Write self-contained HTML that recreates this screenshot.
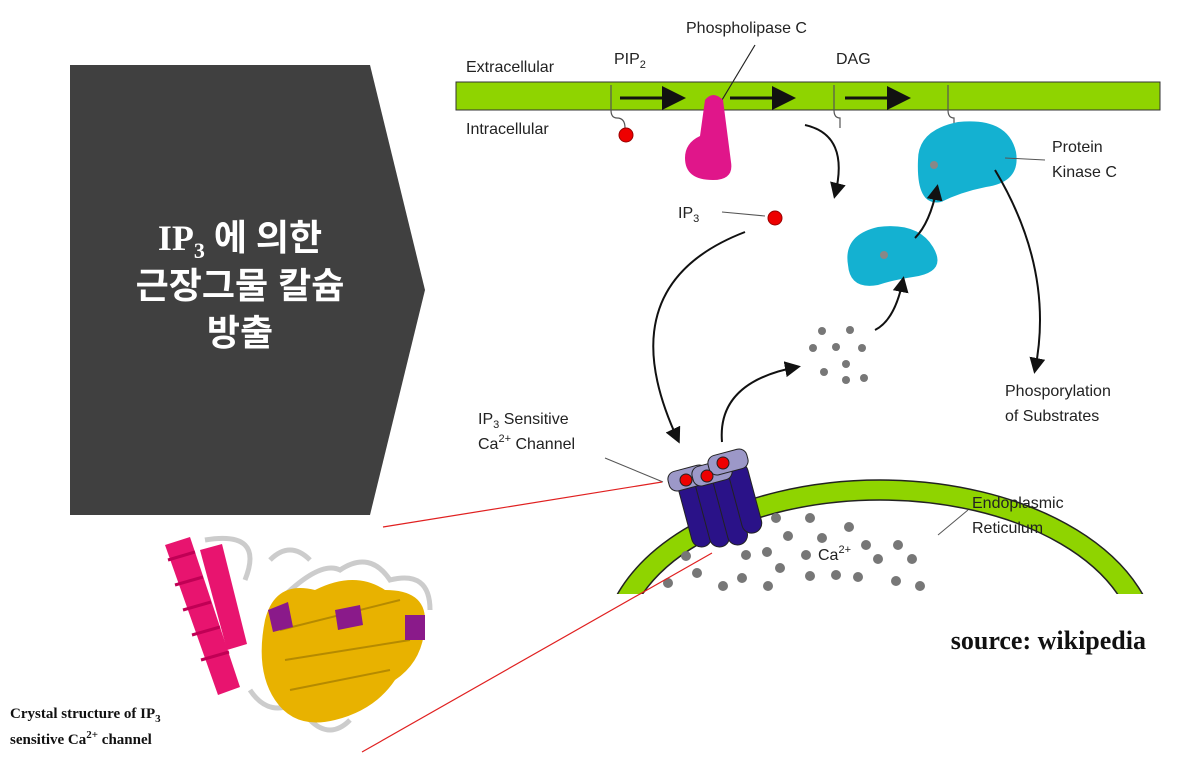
<!DOCTYPE html>
<html><head><meta charset="utf-8"><style>
html,body{margin:0;padding:0;background:#fff;width:1193px;height:769px;overflow:hidden}
svg{display:block}
svg text{font-family:"Liberation Sans","Noto Sans CJK KR",sans-serif}
svg text.serif{font-family:"Liberation Serif","Noto Sans CJK KR",serif}
</style></head><body>
<svg width="1193" height="769" viewBox="0 0 1193 769" xmlns="http://www.w3.org/2000/svg">
<defs><marker id="ah" markerWidth="8" markerHeight="8" refX="6" refY="4" orient="auto"><path d="M0,0 L8,4 L0,8 Z" fill="#111"/></marker>
<clipPath id="erclip"><rect x="580" y="400" width="600" height="194"/></clipPath></defs>

<g>
<polygon points="70,65 370,65 425,290 370,515 70,515" fill="#404040"/>
<text class="serif" x="240" y="250" font-size="36" font-weight="bold" fill="#fff" text-anchor="middle">IP<tspan font-size="22" dy="8">3</tspan><tspan dy="-8"> 에 의한</tspan></text>
<text x="240" y="298" font-size="36" font-weight="bold" fill="#fff" text-anchor="middle">근장그물 칼슘</text>
<text x="240" y="345" font-size="36" font-weight="bold" fill="#fff" text-anchor="middle">방출</text>
</g>

<g>
<rect x="456" y="82" width="704" height="28" fill="#8fd400" stroke="#333" stroke-width="1"/>
<text x="466" y="72" font-size="16" fill="#222">Extracellular</text>
<text x="466" y="134" font-size="16" fill="#222">Intracellular</text>
<g stroke="#111" stroke-width="3" marker-end="url(#ah)">
<line x1="620" y1="98" x2="680" y2="98"/><line x1="730" y1="98" x2="790" y2="98"/><line x1="845" y1="98" x2="905" y2="98"/></g>
<g stroke="#555" stroke-width="1.2" fill="none">
<path d="M611,85 v25 q0,8 6,8 q8,0 8,10"/><path d="M834,85 v25 q0,8 6,8 v10"/><path d="M948,85 v25 q0,8 6,8 v10"/></g>
</g>
<text x="614" y="64" font-size="16" fill="#222">PIP<tspan font-size="11" dy="4">2</tspan></text>
<circle cx="626" cy="135" r="7" fill="#e00" stroke="#900"/>
<text x="686" y="33" font-size="16" fill="#222">Phospholipase C</text>
<line x1="755" y1="45" x2="722" y2="100" stroke="#222" stroke-width="1.2"/>
<path d="M705,100 q8,-10 18,0 l8,62 q3,18 -18,18 q-28,0 -28,-22 q0,-15 15,-22 z" fill="#e0168a"/>
<text x="836" y="64" font-size="16" fill="#222">DAG</text>
<path d="M805,125 q45,10 30,70" stroke="#111" stroke-width="2" fill="none" marker-end="url(#ah)"/>
<text x="678" y="218" font-size="16" fill="#222">IP<tspan font-size="11" dy="4">3</tspan></text>
<line x1="722" y1="212" x2="765" y2="216" stroke="#555"/>
<circle cx="775" cy="218" r="7" fill="#e00" stroke="#900"/>
<path d="M745,232 C620,280 650,380 678,440" stroke="#111" stroke-width="2" fill="none" marker-end="url(#ah)"/>

<path d="M918,160 q0,-30 40,-38 q50,-5 58,30 q5,30 -30,35 q-25,5 -45,15 q-25,5 -23,-42z" fill="#14b1d1"/>
<circle cx="934" cy="165" r="4" fill="#888"/>
<path d="M848,265 q-5,-30 30,-38 q40,-5 55,20 q15,25 -20,30 q-20,3 -35,8 q-28,5 -30,-20z" fill="#14b1d1"/>
<circle cx="884" cy="255" r="4" fill="#888"/>
<line x1="1005" y1="158" x2="1045" y2="160" stroke="#555"/>
<text x="1052" y="152" font-size="16" fill="#222">Protein</text>
<text x="1052" y="177" font-size="16" fill="#222">Kinase C</text>
<path d="M915,238 q15,-15 22,-50" stroke="#111" stroke-width="2" fill="none" marker-end="url(#ah)"/>
<path d="M875,330 q20,-10 28,-50" stroke="#111" stroke-width="2" fill="none" marker-end="url(#ah)"/>
<path d="M995,170 q60,100 40,200" stroke="#111" stroke-width="2" fill="none" marker-end="url(#ah)"/>
<text x="1005" y="396" font-size="16" fill="#222">Phosporylation</text>
<text x="1005" y="421" font-size="16" fill="#222">of Substrates</text>
<path d="M722,442 q-5,-60 75,-75" stroke="#111" stroke-width="2" fill="none" marker-end="url(#ah)"/>
<g fill="#777">
<circle cx="822" cy="331" r="4"/><circle cx="850" cy="330" r="4"/><circle cx="813" cy="348" r="4"/><circle cx="836" cy="347" r="4"/><circle cx="862" cy="348" r="4"/><circle cx="824" cy="372" r="4"/><circle cx="846" cy="364" r="4"/><circle cx="864" cy="378" r="4"/><circle cx="846" cy="380" r="4"/></g>

<g clip-path="url(#erclip)">
<ellipse cx="880" cy="650" rx="278" ry="170" fill="#8fd400" stroke="#222" stroke-width="1.5"/>
<ellipse cx="880" cy="650" rx="256" ry="150" fill="#fff" stroke="#222" stroke-width="1.5"/>
<g fill="#777">
<circle cx="776" cy="518" r="5"/><circle cx="810" cy="518" r="5"/><circle cx="849" cy="527" r="5"/><circle cx="788" cy="536" r="5"/><circle cx="822" cy="538" r="5"/><circle cx="866" cy="545" r="5"/><circle cx="898" cy="545" r="5"/><circle cx="686" cy="556" r="5"/><circle cx="746" cy="555" r="5"/><circle cx="767" cy="552" r="5"/><circle cx="806" cy="555" r="5"/><circle cx="878" cy="559" r="5"/><circle cx="912" cy="559" r="5"/><circle cx="697" cy="573" r="5"/><circle cx="742" cy="578" r="5"/><circle cx="780" cy="568" r="5"/><circle cx="810" cy="576" r="5"/><circle cx="836" cy="575" r="5"/><circle cx="858" cy="577" r="5"/><circle cx="896" cy="581" r="5"/><circle cx="920" cy="586" r="5"/><circle cx="668" cy="583" r="5"/><circle cx="723" cy="586" r="5"/><circle cx="768" cy="586" r="5"/></g>
</g>
<text x="818" y="560" font-size="16" fill="#222">Ca<tspan font-size="11" dy="-7">2+</tspan></text>
<line x1="938" y1="535" x2="968" y2="510" stroke="#555"/>
<text x="972" y="508" font-size="16" fill="#222">Endoplasmic</text>
<text x="972" y="533" font-size="16" fill="#222">Reticulum</text>

<g stroke="#222" stroke-width="1">
<rect x="684" y="470" width="20" height="78" rx="10" fill="#2a1288" transform="rotate(-15 694 509)"/>
<rect x="702" y="470" width="20" height="78" rx="10" fill="#2a1288" transform="rotate(-15 712 509)"/>
<rect x="720" y="468" width="20" height="78" rx="10" fill="#2a1288" transform="rotate(-15 730 507)"/>
<rect x="735" y="462" width="20" height="72" rx="10" fill="#2a1288" transform="rotate(-15 745 498)"/>
<rect x="668" y="468" width="40" height="20" rx="8" fill="#9c98c8" transform="rotate(-15 688 478)"/>
<rect x="692" y="463" width="40" height="20" rx="8" fill="#9c98c8" transform="rotate(-15 712 473)"/>
<rect x="708" y="452" width="40" height="20" rx="8" fill="#9c98c8" transform="rotate(-15 728 462)"/>
<circle cx="686" cy="480" r="6" fill="#e00"/><circle cx="707" cy="476" r="6" fill="#e00"/><circle cx="723" cy="463" r="6" fill="#e00"/>
</g>
<text x="478" y="424" font-size="16" fill="#222">IP<tspan font-size="11" dy="4">3</tspan><tspan dy="-4"> Sensitive</tspan></text>
<text x="478" y="449" font-size="16" fill="#222">Ca<tspan font-size="11" dy="-7">2+</tspan><tspan dy="7"> Channel</tspan></text>
<line x1="605" y1="458" x2="663" y2="482" stroke="#555"/>

<line x1="383" y1="527" x2="662" y2="482" stroke="#e02020" stroke-width="1.2"/>
<line x1="362" y1="752" x2="712" y2="553" stroke="#e02020" stroke-width="1.2"/>

<g>
<path d="M205,540 q60,-10 40,40 M280,600 q40,-40 60,-30 q30,-20 50,10 q40,-10 40,30 M300,700 q-30,20 -50,-10 M350,720 q-20,20 -40,0 M270,560 q20,-20 40,0" stroke="#ccc" stroke-width="5" fill="none"/>
<g fill="#e8146f">
<path d="M165,545 l25,-8 l50,150 l-22,8 z"/><path d="M200,550 l22,-6 l25,100 l-20,6 z"/></g>
<g stroke="#c00055" stroke-width="3">
<line x1="168" y1="560" x2="195" y2="552"/><line x1="175" y1="585" x2="203" y2="577"/><line x1="183" y1="610" x2="211" y2="602"/><line x1="192" y1="635" x2="220" y2="627"/><line x1="201" y1="660" x2="229" y2="652"/></g>
<path d="M265,620 q10,-40 50,-30 q40,-20 70,0 q40,0 40,30 q0,40 -30,60 q-20,30 -60,40 q-40,10 -60,-20 q-20,-30 -10,-80z" fill="#e8b200"/>
<g stroke="#b58a00" stroke-width="2"><line x1="280" y1="630" x2="400" y2="600"/><line x1="285" y1="660" x2="410" y2="640"/><line x1="290" y1="690" x2="390" y2="670"/></g>
<g fill="#8a1a8a"><path d="M268,610 l20,-8 l5,25 l-20,5z"/><path d="M335,610 l25,-5 l3,20 l-25,5z"/><path d="M405,615 l20,0 l0,25 l-20,0z"/></g>
</g>
<text class="serif" x="10" y="718" font-size="15" font-weight="bold" fill="#111">Crystal structure of IP<tspan font-size="11" dy="4">3</tspan></text>
<text class="serif" x="10" y="744" font-size="15" font-weight="bold" fill="#111">sensitive Ca<tspan font-size="11" dy="-6">2+</tspan><tspan dy="6"> channel</tspan></text>
<text class="serif" x="1146" y="649" font-size="26" font-weight="bold" fill="#111" text-anchor="end">source: wikipedia</text>
</svg>
</body></html>
